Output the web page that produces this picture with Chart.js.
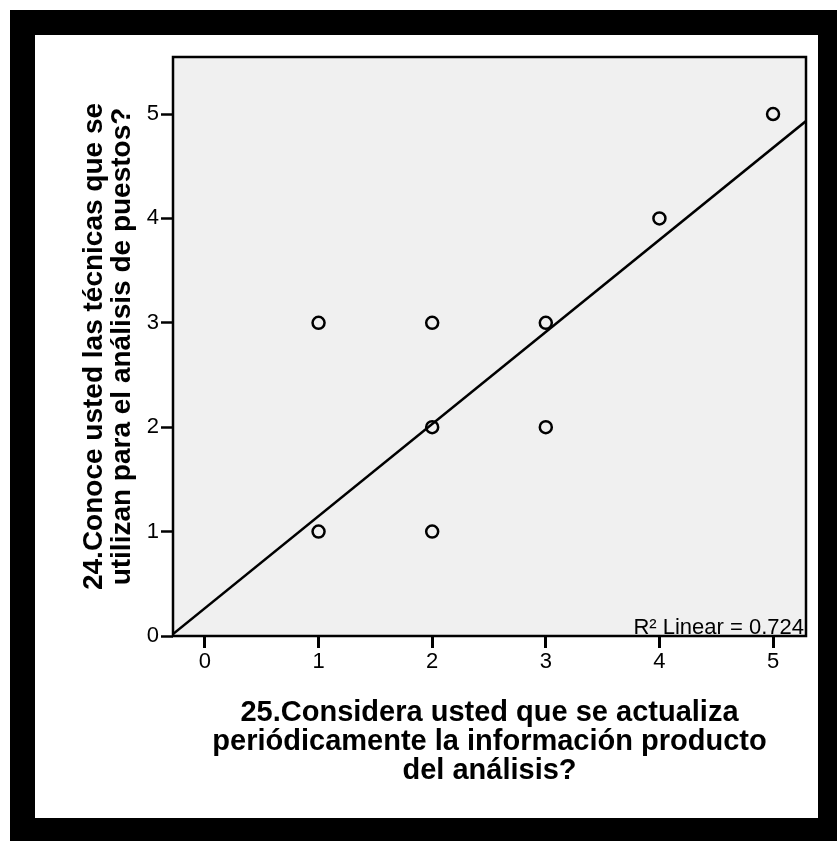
<!DOCTYPE html>
<html>
<head>
<meta charset="utf-8">
<script src="https://cdn.jsdelivr.net/npm/chart.js@4"></script>
<style>
  html, body { margin: 0; padding: 0; background: #fff; }
  #marco {
    position: absolute; left: 10px; top: 10px; width: 827px; height: 831px;
    box-sizing: border-box; border-style: solid; border-color: #000;
    border-width: 25px 19px 23px 25px;
  }
  #grafico { position: absolute; left: 0; top: 0; }
</style>
</head>
<body>
<div id="marco"></div>
<canvas id="grafico" width="837" height="841"></canvas>
<script>
const grafico_canvas = document.getElementById("grafico");

// pregunta 25 (x) vs pregunta 24 (y)
const respuestasX = [1, 1, 2, 2, 2, 3, 3, 4, 5];
const respuestasY = [1, 3, 1, 2, 3, 2, 3, 4, 5];
const ticksX = [0, 1, 2, 3, 4, 5];
const ticksY = [0, 1, 2, 3, 4, 5];

// recta de ajuste
const FIT_INTERCEPT = 0.267;
const FIT_SLOPE = 0.882;
const R2_LABEL = "R² Linear = 0.724";

const X_MIN = -0.281;
const X_MAX = 5.29;
const Y_MIN = 0;
const Y_MAX = 5.546;

const tituloX = ["25.Considera usted que se actualiza", "periódicamente la información producto", "del análisis?"];
const tituloY = ["24.Conoce usted las técnicas que se", "utilizan para el análisis de puestos?"];

const puntos = respuestasX.map((x, i) => ({ x: x, y: respuestasY[i] }));
const recta = [X_MIN, X_MAX].map((x) => ({ x: x, y: FIT_INTERCEPT + FIT_SLOPE * x }));

const fondoPlot = {
  id: "fondoPlot",
  beforeDraw: (chart) => {
    const { ctx, chartArea: a } = chart;
    ctx.save();
    ctx.fillStyle = "#f0f0f0";
    ctx.fillRect(a.left, a.top, a.right - a.left, a.bottom - a.top);
    ctx.restore();
  },
  afterDraw: (chart) => {
    const { ctx, chartArea: a } = chart;
    ctx.save();
    ctx.strokeStyle = "#000";
    ctx.lineWidth = 2.5;
    ctx.strokeRect(a.left, a.top, a.right - a.left, a.bottom - a.top);
    ctx.fillStyle = "#000";
    ctx.font = "22px 'Liberation Sans', Arial, sans-serif";
    ctx.textAlign = "right";
    ctx.textBaseline = "alphabetic";
    ctx.fillText(R2_LABEL, a.right - 2, a.bottom - 2);
    ctx.restore();
  },
};

const fuenteTick = { family: "'Liberation Sans', Arial, sans-serif", size: 22 };
const fuenteTituloX = { family: "'Liberation Sans', Arial, sans-serif", size: 29, weight: "bold", lineHeight: 1.0 };
const fuenteTituloY = { family: "'Liberation Sans', Arial, sans-serif", size: 28, weight: "bold", lineHeight: 1.0 };

new Chart(grafico_canvas, {
  type: "scatter",
  data: {
    datasets: [
      {
        data: puntos,
        pointRadius: 6,
        pointHoverRadius: 6,
        borderWidth: 2.5,
        borderColor: "#000",
        backgroundColor: "rgba(0,0,0,0)",
      },
      {
        type: "line",
        data: recta,
        borderColor: "#000",
        borderWidth: 2.5,
        pointRadius: 0,
        fill: false,
      },
    ],
  },
  options: {
    responsive: false,
    animation: false,
    events: [],
    layout: { padding: { left: 75, top: 57, right: 31, bottom: 50 } },
    plugins: { legend: { display: false }, tooltip: { enabled: false } },
    scales: {
      x: {
        type: "linear",
        min: X_MIN,
        max: X_MAX,
        afterBuildTicks: (s) => { s.ticks = ticksX.map((v) => ({ value: v })); },
        afterFit: (s) => { s.height = 155; },
        border: { display: false },
        grid: { drawOnChartArea: false, drawTicks: true, tickLength: 12, tickWidth: 3, tickColor: "#000" },
        ticks: { color: "#000", font: fuenteTick, padding: 1, maxRotation: 0 },
        title: { display: true, text: tituloX, color: "#000", font: fuenteTituloX, padding: { top: 0, bottom: 6 } },
      },
      y: {
        type: "linear",
        min: Y_MIN,
        max: Y_MAX,
        afterBuildTicks: (s) => { s.ticks = ticksY.map((v) => ({ value: v })); },
        afterFit: (s) => { s.width = 98; },
        border: { display: false },
        grid: { drawOnChartArea: false, drawTicks: true, tickLength: 12, tickWidth: 2.5, tickColor: "#000" },
        ticks: { color: "#000", font: fuenteTick, padding: 2 },
        title: { display: true, text: tituloY, color: "#000", font: fuenteTituloY, padding: { top: 5, bottom: 0 } },
      },
    },
  },
  plugins: [fondoPlot],
});
</script>
</body>
</html>
